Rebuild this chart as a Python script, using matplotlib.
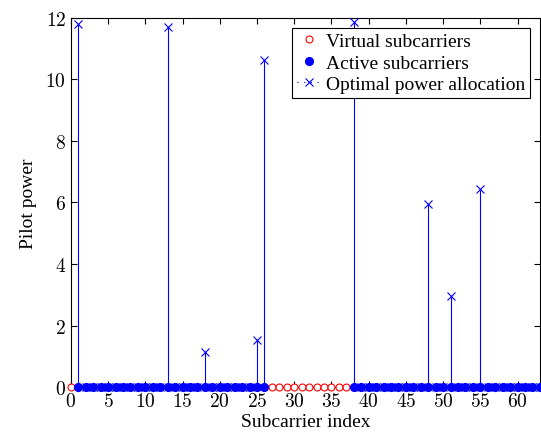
import numpy as np
import matplotlib.pyplot as plt
from matplotlib.lines import Line2D

plt.rcParams['font.family'] = ['Liberation Serif', 'DejaVu Serif']
plt.rcParams['mathtext.fontset'] = 'cm'

# subcarrier layout
virtual_idx = [0] + list(range(27, 38))
active_idx = list(range(1, 27)) + list(range(38, 64))

# nonzero optimal pilot powers (all other active subcarriers get 0)
pilot_idx = [1, 13, 18, 25, 26, 38, 48, 51, 55]
pilot_pow = [11.8, 11.7, 1.14, 1.53, 10.63, 11.87, 5.95, 2.96, 6.44]

power = np.zeros(64)
power[pilot_idx] = pilot_pow
active = np.array(active_idx)

fig = plt.figure(figsize=(5.41, 4.39), dpi=100)
ax = fig.add_axes([0.131, 0.116, 0.867, 0.841])

ax.plot(virtual_idx, np.zeros(len(virtual_idx)), 'o', color='red', mfc='white',
        ms=5, mew=0.8, ls='none', label='Virtual subcarriers', zorder=3,
        clip_on=False)
ax.plot(active, np.zeros(len(active)), 'o', color='blue', ms=5.6,
        ls='none', label='Active subcarriers', zorder=6, clip_on=False)
ax.vlines(active, 0, power[active], color='blue', lw=0.8, zorder=2)
ax.plot(active, power[active], 'x', color='blue', ms=6, mew=0.8,
        ls='none', label='Optimal power allocation', zorder=4, clip_on=False)

handles, labels = ax.get_legend_handles_labels()
handles[2] = Line2D([], [], color='blue', marker='x', ms=6, mew=0.8,
                    ls=(0, (1, 5)), lw=0.8)

ax.set_xlim(0, 63)
ax.set_ylim(0, 12)
ax.set_xticks(np.arange(0, 61, 5))
ax.set_yticks(np.arange(0, 13, 2))
ax.set_xticklabels([f'${v}$' for v in range(0, 61, 5)])
ax.set_yticklabels([f'${v}$' for v in range(0, 13, 2)])
ax.tick_params(direction='in', top=True, right=True, labelsize=14, length=4)
ax.set_xlabel('Subcarrier index', fontsize=14, labelpad=2)
ax.set_ylabel('Pilot power', fontsize=14, labelpad=6)

leg = ax.legend(handles, labels, loc='upper right', fontsize=14, frameon=True,
                fancybox=False, edgecolor='black', framealpha=1,
                handlelength=1.2, handletextpad=0.3, borderpad=0.25,
                labelspacing=0.2, borderaxespad=0.5)
leg.get_frame().set_linewidth(0.8)

fig.savefig('out.png', dpi=100)
